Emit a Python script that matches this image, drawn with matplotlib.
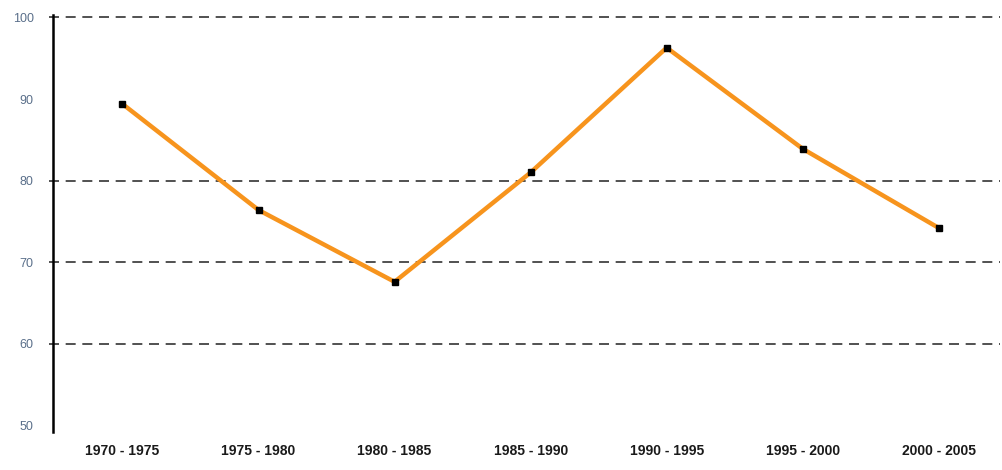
import numpy as np
import matplotlib.pyplot as plt

# Periods and values
periods = ['1970 - 1975', '1975 - 1980', '1980 - 1985', '1985 - 1990',
           '1990 - 1995', '1995 - 2000', '2000 - 2005']
values = [89.4, 76.4, 67.6, 81.0, 96.3, 83.9, 74.2]
y_ticks = [50, 60, 70, 80, 90, 100]
grid_levels = [60, 70, 80, 100]

plt.rcParams['font.family'] = ['Liberation Sans', 'DejaVu Sans']

fig = plt.figure(figsize=(10.02, 4.70), dpi=100)
ax = fig.add_axes([0.053, 0.081, 0.945, 0.887])

x = np.arange(len(periods))

# dashed reference lines
for lv in grid_levels:
    ax.axhline(lv, xmin=-0.004, xmax=1.0, color='#333333', lw=1.2,
               linestyle=(0, (6, 4)), clip_on=False, zorder=1)

ax.plot(x, values, color='#f7941d', lw=3.2, zorder=2)
ax.plot(x, values, linestyle='none', marker='s', ms=4.5, color='black', zorder=3)

ax.set_xlim(-0.51, 6.45)
ax.set_ylim(49.2, 100.3)
ax.set_xticks(x)
ax.set_xticklabels(periods, fontsize=10, fontweight='bold', color='#1a1a1a')
ax.set_yticks(y_ticks)
ax.set_yticklabels([str(v) for v in y_ticks], fontsize=9, color='#5a6f8a')
ax.tick_params(axis='both', length=0)
ax.tick_params(axis='y', pad=14)
ax.tick_params(axis='x', pad=9)

for side in ['top', 'right', 'bottom']:
    ax.spines[side].set_visible(False)
ax.spines['left'].set_linewidth(1.8)
ax.spines['left'].set_color('black')

fig.savefig('out.png', dpi=100)
